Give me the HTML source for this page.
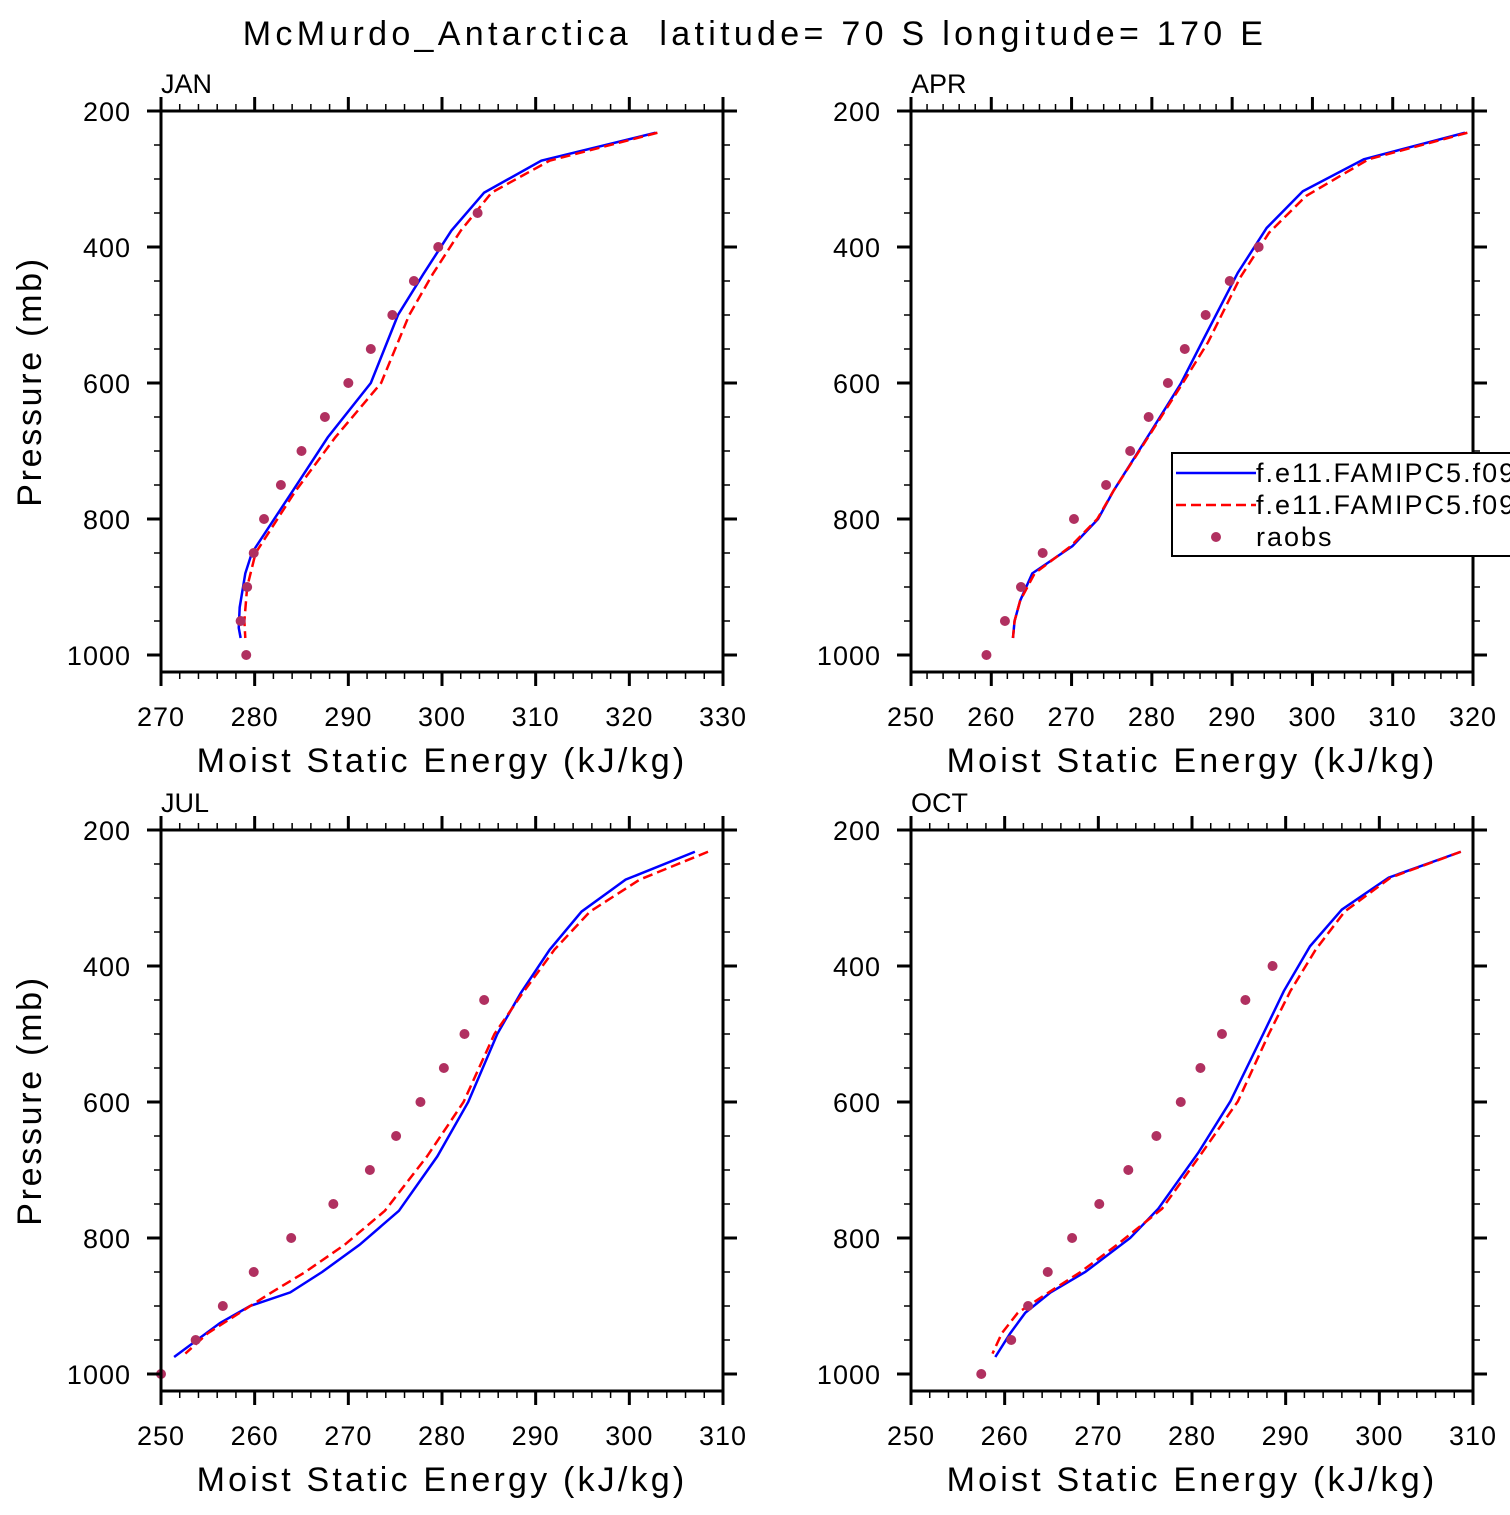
<!DOCTYPE html>
<html><head><meta charset="utf-8"><style>
html,body{margin:0;padding:0;background:#fff;}
svg text{font-family:"Liberation Sans",sans-serif;fill:#000;}
</style></head><body>
<svg id="chart" width="1510" height="1510" viewBox="0 0 1510 1510" xmlns="http://www.w3.org/2000/svg">
<text x="755" y="45" font-size="34" text-anchor="middle" letter-spacing="4.3" style="white-space:pre">McMurdo_Antarctica  latitude= 70 S longitude= 170 E</text>
</svg>
<script>
const pTicks = [200,400,600,800,1000];

const janXTicks = [270,280,290,300,310,320,330];
const janBlueP = [232,273,320,376,440,500,600,680,760,850,880,930,960,975];
const janBlue = [322.8,310.6,304.5,301,298,295.3,292.4,287.8,284,279.7,279,278.4,278.3,278.5];
const janRedP = [232,273,320,376,440,500,600,680,760,850,900,950,975];
const janRed = [323,311.5,305.3,302,299,296.5,293.5,288.6,284.3,280.1,279.2,278.9,279];
const janObsP = [350,400,450,500,550,600,650,700,750,800,850,900,950,1000];
const janObs = [303.8,299.6,297,294.7,292.4,290,287.5,285,282.8,281,279.9,279.2,278.5,279.1];

const aprXTicks = [250,260,270,280,290,300,310,320];
const aprBlueP = [232,271,318,372,438,534,601,673,759,800,840,880,920,950,975];
const aprBlue = [319,306.4,298.8,294.3,290.7,286.5,283.6,279.8,275.2,273.3,270.1,265.1,263.6,262.9,262.7];
const aprRedP = [232,271,325,379,445,540,601,673,759,800,840,880,920,950,975];
const aprRed = [319.3,307,299.2,294.6,291,287,283.8,279.9,275.2,273.2,269.9,265.4,263.6,262.9,262.7];
const aprObsP = [400,450,500,550,600,650,700,750,800,850,900,950,1000];
const aprObs = [293.3,289.7,286.7,284.1,282,279.6,277.3,274.3,270.3,266.4,263.7,261.7,259.4];

const julXTicks = [250,260,270,280,290,300,310];
const julBlueP = [232,273,320,376,440,500,600,680,760,810,850,880,900,925,975];
const julBlue = [307,299.6,294.9,291.5,288.4,285.9,282.8,279.5,275.4,271.2,267.2,263.8,259.5,256.3,251.4];
const julRedP = [232,273,320,376,440,500,600,680,760,810,850,880,910,940,970];
const julRed = [308.4,301.1,295.8,292,288.6,285.6,282.3,278.4,273.9,269.6,265.4,261.8,258.4,255,252.6];
const julObsP = [450,500,550,600,650,700,750,800,850,900,950,1000];
const julObs = [284.5,282.4,280.2,277.7,275.1,272.3,268.4,263.9,259.9,256.6,253.7,250];

const octXTicks = [250,260,270,280,290,300,310];
const octBlueP = [232,270,317,371,437,500,599,674,757,800,850,880,910,940,975];
const octBlue = [308.7,301,296,292.6,289.8,287.6,284.1,280.7,276.4,273.4,268.6,264.9,262.2,260.6,259];
const octRedP = [232,270,320,376,437,500,599,674,757,810,850,880,910,940,970];
const octRed = [308.7,301.2,296.3,293.2,290.5,288.2,284.9,281.1,276.8,272,268.1,264.7,261.4,259.7,258.7];
const octObsP = [400,450,500,550,600,650,700,750,800,850,900,950,1000];
const octObs = [288.6,285.7,283.2,280.9,278.8,276.2,273.2,270.1,267.2,264.6,262.5,260.7,257.5];

const NS = "http://www.w3.org/2000/svg";
const svg = document.getElementById('chart');
function mk(tag, attrs, parent) {
  const e = document.createElementNS(NS, tag);
  for (const k in attrs) e.setAttribute(k, attrs[k]);
  (parent || svg).appendChild(e);
  return e;
}

function panel(name, label, L, T, xTicks, blueP, blue, redP, red, obsP, obs, legend, showYTitle) {
  const W = 562, H = 561;
  const xmin = xTicks[0], xmax = xTicks[xTicks.length - 1];
  const pmin = 200, pmax = 1025;
  const xs = v => L + (v - xmin) / (xmax - xmin) * W;
  const ys = p => T + (p - pmin) / (pmax - pmin) * H;
  const g = mk('g', {});
  
  

  const clipId = 'clip-' + name;
  const cp = mk('clipPath', {id: clipId}, g);
  mk('rect', {x: L, y: T, width: W, height: H}, cp);

  const blueLine = mk('polyline', {points: blue.map((v, i) => xs(v) + ',' + ys(blueP[i])).join(' '), fill: 'none', stroke: '#0000ff', 'stroke-width': 2.5, 'clip-path': 'url(#' + clipId + ')'}, g);
  
  
  const redLine = mk('polyline', {points: red.map((v, i) => xs(v) + ',' + ys(redP[i])).join(' '), fill: 'none', stroke: '#ff0000', 'stroke-width': 2.5, 'stroke-dasharray': '10,5', 'clip-path': 'url(#' + clipId + ')'}, g);
  
  
  obs.forEach((v, i) => {
    const c = mk('circle', {cx: xs(v), cy: ys(obsP[i]), r: 5, fill: '#b03060'}, g);
    
    
  });

  const fr = mk('rect', {x: L, y: T, width: W, height: H, fill: 'none', stroke: '#000', 'stroke-width': 3}, g);
  
  

  for (let v = xmin; v <= xmax + 1e-6; v += 2) {
    const major = Math.abs((v - xmin) % 10) < 1e-6;
    const len = major ? 14 : 7, w = major ? 3 : 1.5;
    const x = xs(v);
    mk('line', {x1: x, y1: T, x2: x, y2: T - len, stroke: '#000', 'stroke-width': w}, g);
    mk('line', {x1: x, y1: T + H, x2: x, y2: T + H + len, stroke: '#000', 'stroke-width': w}, g);
  }
  xTicks.forEach(v => {
    const t = mk('text', {x: xs(v), y: T + H + 54, 'font-size': 27, 'text-anchor': 'middle', 'letter-spacing': 1}, g);
    t.textContent = v;
    
    
  });
  for (let p = 200; p <= 1000; p += 50) {
    const major = p % 200 === 0;
    const len = major ? 14 : 7, w = major ? 3 : 1.5;
    const y = ys(p);
    mk('line', {x1: L, y1: y, x2: L - len, y2: y, stroke: '#000', 'stroke-width': w}, g);
    mk('line', {x1: L + W, y1: y, x2: L + W + len, y2: y, stroke: '#000', 'stroke-width': w}, g);
  }
  pTicks.forEach(p => {
    const t = mk('text', {x: L - 30, y: ys(p) + 10, 'font-size': 27, 'text-anchor': 'end', 'letter-spacing': 1}, g);
    t.textContent = p;
    
    
  });
  const lab = mk('text', {x: L, y: T - 18, 'font-size': 27}, g);
  lab.textContent = label;
  
  
  const xt = mk('text', {x: L + W / 2, y: T + H + 100, 'font-size': 34, 'text-anchor': 'middle', 'letter-spacing': 3.2}, g);
  xt.textContent = 'Moist Static Energy (kJ/kg)';
  
  
  if (showYTitle) {
    const yt = mk('text', {x: 0, y: 0, 'font-size': 34, 'text-anchor': 'middle', 'letter-spacing': 2.7, transform: 'translate(' + (L - 120) + ',' + (T + H / 2 - 10) + ') rotate(-90)'}, g);
    yt.textContent = 'Pressure (mb)';
    
    
  }

  if (legend) {
    const lg = mk('g', {}, g);
    
    
    mk('rect', {x: 1172, y: 453, width: 345, height: 103, fill: '#fff', stroke: '#000', 'stroke-width': 2}, lg);
    mk('line', {x1: 1176, y1: 473, x2: 1256, y2: 473, stroke: '#0000ff', 'stroke-width': 2.5}, lg);
    mk('line', {x1: 1176, y1: 505, x2: 1256, y2: 505, stroke: '#ff0000', 'stroke-width': 2.5, 'stroke-dasharray': '10,5'}, lg);
    mk('circle', {cx: 1216, cy: 537, r: 5, fill: '#b03060'}, lg);
    const names = ['f.e11.FAMIPC5.f09', 'f.e11.FAMIPC5.f09', 'raobs'];
    names.forEach((s, i) => {
      const t = mk('text', {x: 1256, y: 482 + i * 32, 'font-size': 27, 'letter-spacing': 2}, lg);
      t.textContent = s;
      
      
    });
  }
}

panel('jan', 'JAN', 161, 111, janXTicks, janBlueP, janBlue, janRedP, janRed, janObsP, janObs, false, true);
panel('apr', 'APR', 911, 111, aprXTicks, aprBlueP, aprBlue, aprRedP, aprRed, aprObsP, aprObs, true, false);
panel('jul', 'JUL', 161, 830, julXTicks, julBlueP, julBlue, julRedP, julRed, julObsP, julObs, false, true);
panel('oct', 'OCT', 911, 830, octXTicks, octBlueP, octBlue, octRedP, octRed, octObsP, octObs, false, false);
</script>
</body></html>
